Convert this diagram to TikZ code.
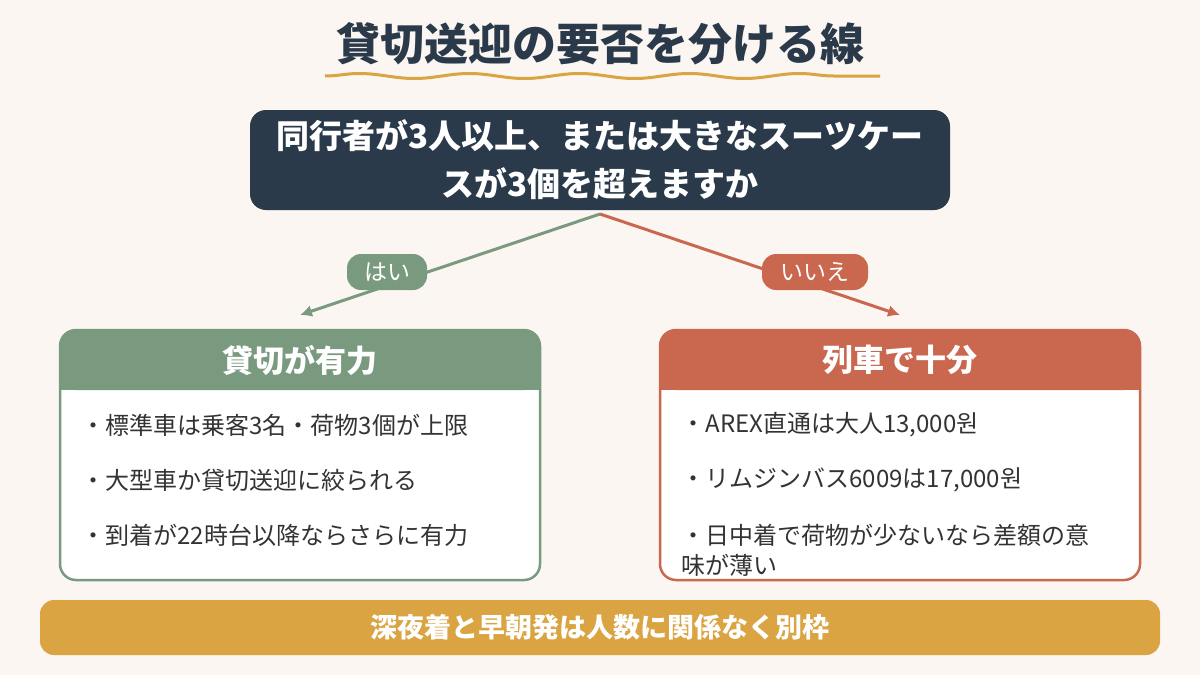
\documentclass[tikz,border=0pt]{standalone}
\usepackage{fontspec}
\setmainfont{Noto Sans CJK JP}
\usetikzlibrary{decorations.pathmorphing,arrows.meta}
\definecolor{bg}{HTML}{FBF6F1}
\definecolor{navy}{HTML}{2B3A4A}
\definecolor{grn}{HTML}{7A9A80}
\definecolor{org}{HTML}{C9684F}
\definecolor{gold}{HTML}{D9A441}
\definecolor{txt}{HTML}{333333}
\tikzset{
 hdr/.style={font=\fontsize{31}{34}\selectfont\bfseries,text=white},
 item/.style={font=\fontsize{24}{30}\selectfont,text=txt,anchor=west,align=left},
 pill/.style={rounded corners=14pt,minimum width=#1,minimum height=36pt,text=white,font=\fontsize{23}{26}\selectfont},
 arr/.style={line width=3pt,-{Latex[length=12pt,width=12pt]}}
}
\begin{document}
\begin{tikzpicture}[x=1pt,y=-1pt]
\fill[bg] (0,0) rectangle (1200,675);
\useasboundingbox (0,0) rectangle (1200,675);
\node[font=\fontsize{44}{48}\selectfont\bfseries,text=navy] (title) at (600,44) {貸切送迎の要否を分ける線};
\draw[gold,line width=3pt,decorate,decoration={snake,amplitude=2.5pt,segment length=110pt}] (325,76) -- (880,76);
\fill[navy,rounded corners=16pt] (250,110) rectangle (950,210);
\node[text=white,font=\fontsize{33}{48}\selectfont\bfseries,align=center] (q) at (600,160) {同行者が3人以上、または大きなスーツケー\\スが3個を超えますか};
\coordinate (qs) at (600,214);
\coordinate (le) at (300,315);
\coordinate (re) at (900,315);
\draw[arr,grn] (qs) -- (le);
\draw[arr,org] (qs) -- (re);
\node[pill=80pt,fill=grn] (yes) at (387,272) {はい};
\node[pill=106pt,fill=org] (no) at (815,272) {いいえ};
\fill[white,rounded corners=16pt,draw=grn,line width=2.5pt] (60,330) rectangle (540,580);
\fill[grn,rounded corners=16pt] (60,330) rectangle (540,390);
\fill[grn] (60,370) rectangle (540,390);
\node[hdr] (lh) at (300,360) {貸切が有力};
\node[item] (l1) at (78,425) {・標準車は乗客3名・荷物3個が上限};
\node[item] (l2) at (78,480) {・大型車か貸切送迎に絞られる};
\node[item] (l3) at (78,535) {・到着が22時台以降ならさらに有力};
\fill[white,rounded corners=16pt,draw=org,line width=2.5pt] (660,330) rectangle (1140,580);
\fill[org,rounded corners=16pt] (660,330) rectangle (1140,390);
\fill[org] (660,370) rectangle (1140,390);
\node[hdr] (rh) at (900,360) {列車で十分};
\node[item] (r1) at (678,425) {・AREX直通は大人13,000원};
\node[item] (r2) at (678,480) {・リムジンバス6009は17,000원};
\node[item] (r3) at (678,550) {・日中着で荷物が少ないなら差額の意\\味が薄い};
\fill[gold,rounded corners=14pt] (40,600) rectangle (1160,655);
\node[text=white,font=\fontsize{27}{30}\selectfont\bfseries] (bt) at (600,627) {深夜着と早朝発は人数に関係なく別枠};
\end{tikzpicture}
\end{document}
